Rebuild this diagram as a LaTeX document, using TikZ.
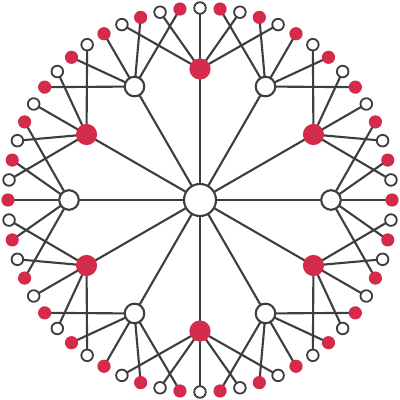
\documentclass[tikz,border=0pt]{standalone}
\usetikzlibrary{backgrounds}
\definecolor{myred}{HTML}{D42A4C}
\definecolor{edgegray}{HTML}{3E3E3E}
\begin{document}
\begin{tikzpicture}[x=0.25mm,y=0.25mm,
  link/.style={draw=edgegray,line width=1.5pt},
  hub/.style={circle,draw=edgegray,fill=white,line width=1.5pt,inner sep=0pt,minimum size=8mm},
  wmid/.style={circle,draw=edgegray,fill=white,line width=1.5pt,inner sep=0pt,minimum size=4.9mm},
  rmid/.style={circle,fill=myred,inner sep=0pt,minimum size=5.3mm},
  wleaf/.style={circle,draw=edgegray,fill=white,line width=1.3pt,inner sep=0pt,minimum size=2.9mm},
  rleaf/.style={circle,fill=myred,inner sep=0pt,minimum size=3.3mm}]
\useasboundingbox (-200,-200) rectangle (200,200);
\node[hub] (c) at (0,0) {};
\foreach \k in {0,...,11}{
  \pgfmathsetmacro\ang{30*\k}
  \ifodd\k
    \node[rmid] (p\k) at (\ang:131) {};
  \else
    \node[wmid] (p\k) at (\ang:131) {};
  \fi
  \begin{pgfonlayer}{background}
    \draw[link] (c.center) -- (p\k.center);
  \end{pgfonlayer}
}
\foreach \m in {0,...,59}{
  \pgfmathsetmacro\ang{6*\m}
  \ifodd\m
    \pgfmathtruncatemacro\prnt{mod(2*round((\m-5)/10)+1,12)}
    \node[wleaf] (l\m) at (\ang:192) {};
  \else
    \pgfmathtruncatemacro\prnt{mod(2*round(\m/10),12)}
    \node[rleaf] (l\m) at (\ang:192) {};
  \fi
  \begin{pgfonlayer}{background}
    \draw[link] (p\prnt.center) -- (l\m.center);
  \end{pgfonlayer}
}
\end{tikzpicture}
\end{document}
